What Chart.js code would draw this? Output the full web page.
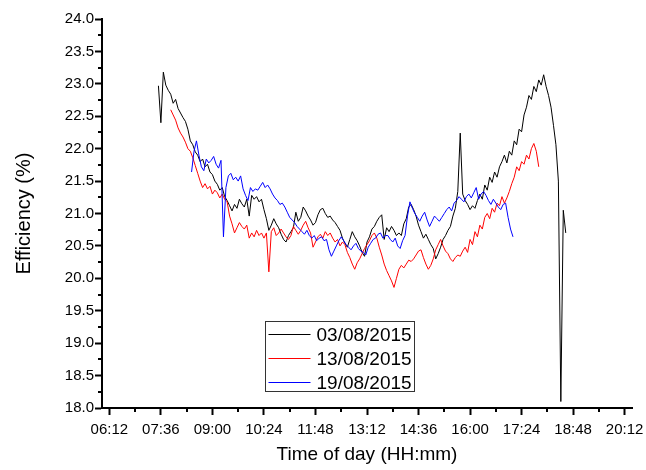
<!DOCTYPE html>
<html>
<head>
<meta charset="utf-8">
<script src="https://cdn.jsdelivr.net/npm/chart.js@4.4.0/dist/chart.umd.min.js"></script>
<style>
  html, body { margin: 0; padding: 0; background: #fff; }
</style>
</head>
<body>
<canvas id="chart" width="646" height="470"></canvas>
<script>
// logged efficiency, one sample every 4 minutes
const seriesLabels = ['03/08/2015', '13/08/2015', '19/08/2015'];
const seriesColors = ['#000000', '#ff0000', '#0000ff'];
const startTimes = ['07:32', '07:52', '08:26'];
const sampleStep = 4;

const eff0308 = [
  22.97, 22.40, 23.18, 22.98, 22.90, 22.84, 22.70, 22.76, 22.62, 22.55,
  22.48, 22.42, 22.30, 22.12, 22.06, 21.95, 21.90, 21.80, 21.84, 21.72,
  21.76, 21.64, 21.60, 21.50, 21.45, 21.36, 21.40, 21.26, 21.20, 21.12,
  21.04, 21.14, 21.08, 21.22, 21.15, 21.10, 21.22, 20.96, 21.28, 21.22,
  21.26, 21.18, 21.22, 21.06, 20.92, 20.74, 20.82, 20.92, 20.84, 20.78,
  20.68, 20.60, 20.56, 20.66, 20.72, 20.78, 21.02, 20.88, 20.94, 21.10,
  21.04, 20.96, 20.90, 20.82, 20.86, 20.98, 21.06, 21.08, 21.00, 20.94,
  20.96, 20.90, 20.86, 20.80, 20.74, 20.62, 20.54, 20.48, 20.60, 20.72,
  20.64, 20.58, 20.50, 20.40, 20.34, 20.56, 20.64, 20.76, 20.80, 20.88,
  20.94, 20.98, 20.60, 20.78, 20.72, 20.80, 20.74, 20.66, 20.70, 20.66,
  20.84, 20.92, 21.10, 21.14, 21.06, 20.96, 20.82, 20.72, 20.62, 20.68,
  20.60, 20.52, 20.46, 20.30, 20.38, 20.48, 20.60, 20.66, 20.74, 20.80,
  20.96, 21.08, 21.34, 22.24, 21.30, 21.20, 21.14, 21.06, 21.12, 21.08,
  21.20, 21.30, 21.22, 21.44, 21.36, 21.56, 21.48, 21.64, 21.56, 21.72,
  21.80, 21.90, 21.78, 21.96, 21.90, 22.12, 22.06, 22.30, 22.26, 22.52,
  22.64, 22.82, 22.76, 22.96, 22.88, 23.06, 22.98, 23.14, 22.96, 22.82,
  22.64, 22.36, 22.06, 21.50, 18.10, 21.05, 20.70
];

const eff1308 = [
  22.60, 22.52, 22.44, 22.32, 22.24, 22.18, 22.10, 22.00, 21.96, 21.86,
  21.74, 21.62, 21.50, 21.40, 21.46, 21.38, 21.42, 21.30, 21.36, 21.32,
  21.24, 21.30, 21.22, 21.18, 20.96, 20.84, 20.70, 20.78, 20.86, 20.80,
  20.76, 20.82, 20.62, 20.70, 20.64, 20.74, 20.66, 20.70, 20.62, 20.70,
  20.10, 20.72, 20.78, 20.66, 20.70, 20.76, 20.70, 20.64, 20.60, 20.66,
  20.80, 20.74, 20.68, 20.74, 20.82, 20.88, 20.78, 20.70, 20.48, 20.56,
  20.64, 20.68, 20.62, 20.72, 20.66, 20.70, 20.62, 20.56, 20.60, 20.50,
  20.56, 20.52, 20.40, 20.32, 20.22, 20.14, 20.24, 20.30, 20.38, 20.46,
  20.52, 20.58, 20.66, 20.70, 20.62, 20.48, 20.36, 20.22, 20.12, 20.04,
  19.96, 19.86, 20.00, 20.14, 20.20, 20.16, 20.22, 20.28, 20.26, 20.30,
  20.36, 20.42, 20.44, 20.32, 20.22, 20.14, 20.20, 20.30, 20.44, 20.52,
  20.60, 20.50, 20.42, 20.38, 20.30, 20.26, 20.32, 20.36, 20.34, 20.42,
  20.48, 20.40, 20.60, 20.52, 20.72, 20.64, 20.82, 20.76, 20.94, 21.00,
  20.92, 21.08, 21.02, 21.16, 21.12, 21.26, 21.16, 21.24, 21.34, 21.46,
  21.56, 21.72, 21.66, 21.80, 21.76, 21.90, 21.84, 22.00, 22.08, 21.96,
  21.72
];

const eff1908 = [
  21.64, 21.96, 22.12, 21.90, 21.72, 21.66, 21.84, 21.78, 21.82, 21.88,
  21.76, 21.70, 21.82, 20.64, 21.40, 21.58, 21.62, 21.52, 21.56, 21.50,
  21.58, 21.38, 21.28, 21.20, 21.40, 21.34, 21.38, 21.36, 21.42, 21.48,
  21.40, 21.44, 21.38, 21.30, 21.24, 21.20, 21.14, 21.16, 21.10, 21.02,
  20.94, 20.90, 20.86, 20.80, 20.76, 20.72, 20.68, 20.74, 20.66, 20.62,
  20.66, 20.58, 20.62, 20.64, 20.58, 20.60, 20.44, 20.34, 20.42, 20.50,
  20.58, 20.64, 20.58, 20.52, 20.48, 20.44, 20.50, 20.54, 20.46, 20.42,
  20.40, 20.36, 20.48, 20.54, 20.60, 20.62, 20.68, 20.70, 20.62, 20.66,
  20.66, 20.60, 20.56, 20.62, 20.50, 20.46, 20.58, 20.66, 20.96, 21.18,
  21.08, 21.00, 20.94, 20.88, 20.96, 21.02, 20.90, 20.80, 20.88, 20.96,
  20.92, 20.88, 20.94, 21.00, 21.06, 21.10, 21.04, 21.16, 21.20, 21.26,
  21.22, 21.18, 21.26, 21.30, 21.24, 21.32, 21.40, 21.22, 21.30, 21.34,
  21.28, 21.20, 21.14, 21.22, 21.16, 21.10, 21.06, 21.14, 21.16, 20.94,
  20.76, 20.64
];

const xTickLabels = ['06:12', '07:36', '09:00', '10:24', '11:48', '13:12', '14:36', '16:00', '17:24', '18:48', '20:12'];
const xAxisRange = ['06:00', '20:24'];
const yAxisRange = [18, 24];

const FONT = '"Liberation Sans", Arial, sans-serif';

const toMin = s => {
  const [h, m] = s.split(':').map(Number);
  return h * 60 + m;
};
const fmtTime = v => {
  const h = Math.floor(v / 60);
  const m = Math.round(v - h * 60);
  return String(h).padStart(2, '0') + ':' + String(m).padStart(2, '0');
};
const toPoints = (start, values) => {
  const t0 = toMin(start);
  return values.map((v, i) => ({ x: t0 + i * sampleStep, y: v }));
};

const xTicks = xTickLabels.map(toMin);
const allSeries = [eff0308, eff1308, eff1908];

// minor ticks halfway between the major ones
const minorTicks = {
  id: 'minorTicks',
  afterDraw(chart) {
    const { ctx, chartArea: ca, scales: { x, y } } = chart;
    ctx.save();
    ctx.strokeStyle = '#000';
    ctx.lineWidth = 2;
    ctx.beginPath();
    for (let i = 0; i < xTicks.length - 1; i++) {
      const px = Math.round(x.getPixelForValue((xTicks[i] + xTicks[i + 1]) / 2));
      ctx.moveTo(px, ca.bottom);
      ctx.lineTo(px, ca.bottom + 4);
    }
    for (let v = yAxisRange[0] + 0.25; v < yAxisRange[1]; v += 0.5) {
      const py = Math.round(y.getPixelForValue(v));
      ctx.moveTo(ca.left - 4, py);
      ctx.lineTo(ca.left, py);
    }
    ctx.stroke();
    ctx.restore();
  }
};

// framed legend inside the plot
const boxLegend = {
  id: 'boxLegend',
  afterDraw(chart) {
    const { ctx, chartArea: ca } = chart;
    const bx = ca.left + 163.5, by = ca.top + 302.5, bw = 149, bh = 70;
    ctx.save();
    ctx.fillStyle = '#fff';
    ctx.fillRect(bx, by, bw, bh);
    ctx.strokeStyle = '#333';
    ctx.lineWidth = 1;
    ctx.strokeRect(bx, by, bw, bh);
    ctx.font = '19px ' + FONT;
    ctx.textBaseline = 'middle';
    chart.data.datasets.forEach((ds, i) => {
      const ry = Math.round(by + 12 + i * 24) + 0.5;
      ctx.strokeStyle = ds.borderColor;
      ctx.beginPath();
      ctx.moveTo(bx + 3, ry);
      ctx.lineTo(bx + 45, ry);
      ctx.stroke();
      ctx.fillStyle = '#000';
      ctx.fillText(ds.label, bx + 51, ry + 1);
    });
    ctx.restore();
  }
};

new Chart(document.getElementById('chart'), {
  type: 'line',
  data: {
    datasets: allSeries.map((vals, i) => ({
      label: seriesLabels[i],
      data: toPoints(startTimes[i], vals),
      borderColor: seriesColors[i],
      borderWidth: 1,
      pointRadius: 0,
      tension: 0,
      fill: false,
      order: 3 - i
    }))
  },
  options: {
    responsive: false,
    animation: false,
    layout: { padding: { left: 0, top: 19, right: 14, bottom: 0 } },
    plugins: {
      legend: { display: false },
      tooltip: { enabled: false }
    },
    scales: {
      x: {
        type: 'linear',
        min: toMin(xAxisRange[0]),
        max: toMin(xAxisRange[1]),
        afterBuildTicks: s => { s.ticks = xTicks.map(v => ({ value: v })); },
        afterFit: s => { s.height = 62; s.paddingLeft = 0; s.paddingRight = 0; },
        ticks: {
          callback: v => fmtTime(v),
          autoSkip: false,
          maxRotation: 0,
          padding: 6,
          color: '#000',
          font: { family: FONT, size: 15 }
        },
        grid: { drawOnChartArea: false, drawTicks: true, tickLength: 7, tickWidth: 2, tickColor: '#000' },
        border: { display: true, color: '#000', width: 2 },
        title: {
          display: true,
          text: 'Time of day (HH:mm)',
          color: '#000',
          font: { family: FONT, size: 19 },
          padding: { top: 0, bottom: 4 }
        }
      },
      y: {
        min: yAxisRange[0],
        max: yAxisRange[1],
        afterFit: s => { s.width = 102; s.paddingTop = 0; s.paddingBottom = 0; },
        ticks: {
          stepSize: 0.5,
          callback: v => Number(v).toFixed(1),
          padding: 1,
          color: '#000',
          font: { family: FONT, size: 15 }
        },
        grid: { drawOnChartArea: false, drawTicks: true, tickLength: 7, tickWidth: 2, tickColor: '#000' },
        border: { display: true, color: '#000', width: 2 },
        title: {
          display: true,
          text: 'Efficiency (%)',
          color: '#000',
          font: { family: FONT, size: 20 },
          padding: { top: 12, bottom: 0 }
        }
      }
    }
  },
  plugins: [minorTicks, boxLegend]
});
</script>
</body>
</html>
